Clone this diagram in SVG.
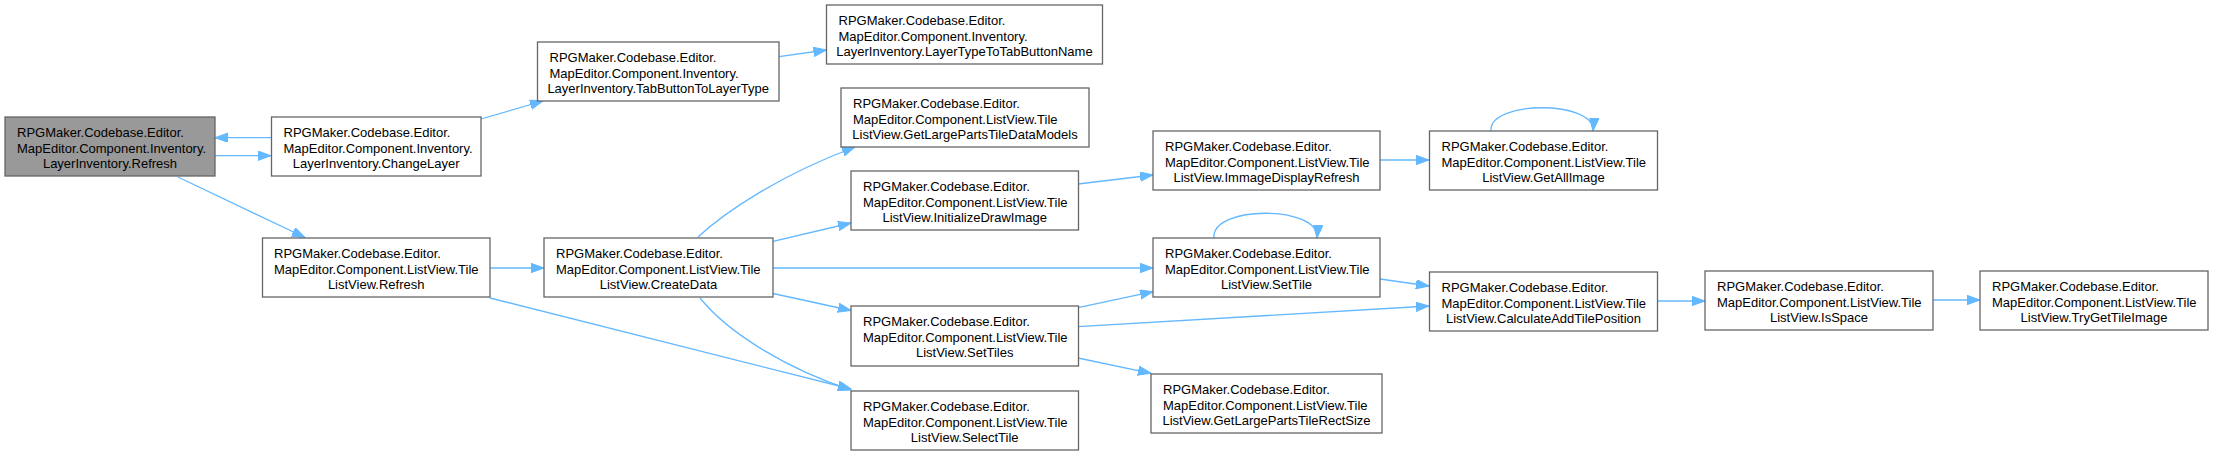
<svg xmlns="http://www.w3.org/2000/svg" width="2213" height="451" viewBox="0 0 2213 451">
<style>
.n rect{fill:#ffffff;stroke:#666666;stroke-width:1.3}
.n.root rect{fill:#999999}
.n text{font-family:"Liberation Sans",Arial,sans-serif;font-size:13px;fill:#000}
.c{text-anchor:middle}
.e path{fill:none;stroke:#63b8ff;stroke-width:1.3;marker-end:url(#ah)}
</style>
<defs>
<marker id="ah" markerUnits="userSpaceOnUse" markerWidth="14" markerHeight="10" refX="13" refY="4.7" orient="auto">
<path d="M0,0 L13,4.7 L0,9.4 z" fill="#63b8ff" stroke="#63b8ff" stroke-width="1"/>
</marker>
</defs>
<rect width="2213" height="451" fill="#ffffff"/>
<g id="edges" class="e">
<path d="M271,137.7 L215,137.7"/>
<path d="M215,155.7 L271,155.7"/>
<path d="M178,177 L305,237.5"/>
<path d="M481,119 L543,101"/>
<path d="M779,56.7 L826.5,50"/>
<path d="M490,268 L544,268"/>
<path d="M490,298 L851,389"/>
<path d="M698,237 C725,212 780,175 855,147"/>
<path d="M772,241.7 L851,223"/>
<path d="M773,268 L1153,268"/>
<path d="M773,293.5 L851,310.5"/>
<path d="M700,298 C730,335 790,370 851,390"/>
<path d="M1078,184 L1153,175"/>
<path d="M1380,160 L1429,160"/>
<path d="M1491,131 C1488,100 1596,100 1593,131"/>
<path d="M1214,238 C1211,205 1320,205 1317,238"/>
<path d="M1078,307.7 L1153,291.7"/>
<path d="M1078,326.7 L1429,306"/>
<path d="M1380,279 L1429,286"/>
<path d="M1078,358 L1151,373.3"/>
<path d="M1657,301 L1705,301"/>
<path d="M1933,300 L1980,300"/>
</g>
<g id="n1" class="n root">
<rect x="5" y="117" width="210" height="59"/>
<text x="17" y="137">RPGMaker.Codebase.Editor.</text>
<text x="17" y="152.5">MapEditor.Component.Inventory.</text>
<text class="c" x="110" y="168">LayerInventory.Refresh</text>
</g>
<g id="n2" class="n">
<rect x="271.5" y="117" width="209.5" height="59"/>
<text x="283.5" y="137">RPGMaker.Codebase.Editor.</text>
<text x="283.5" y="152.5">MapEditor.Component.Inventory.</text>
<text class="c" x="376.2" y="168">LayerInventory.ChangeLayer</text>
</g>
<g id="n3" class="n">
<rect x="262.5" y="238" width="227.5" height="59"/>
<text x="274" y="258">RPGMaker.Codebase.Editor.</text>
<text x="274" y="273.5">MapEditor.Component.ListView.Tile</text>
<text class="c" x="376.2" y="289">ListView.Refresh</text>
</g>
<g id="n4" class="n">
<rect x="537.5" y="42" width="241.5" height="59"/>
<text x="549.5" y="62">RPGMaker.Codebase.Editor.</text>
<text x="549.5" y="77.5">MapEditor.Component.Inventory.</text>
<text class="c" x="658.2" y="93">LayerInventory.TabButtonToLayerType</text>
</g>
<g id="n5" class="n">
<rect x="826.5" y="5" width="276" height="59"/>
<text x="838.5" y="25">RPGMaker.Codebase.Editor.</text>
<text x="838.5" y="40.5">MapEditor.Component.Inventory.</text>
<text class="c" x="964.5" y="56">LayerInventory.LayerTypeToTabButtonName</text>
</g>
<g id="n6" class="n">
<rect x="544" y="238" width="229" height="59"/>
<text x="556" y="258">RPGMaker.Codebase.Editor.</text>
<text x="556" y="273.5">MapEditor.Component.ListView.Tile</text>
<text class="c" x="658.5" y="289">ListView.CreateData</text>
</g>
<g id="n7" class="n">
<rect x="841" y="88" width="248" height="59"/>
<text x="853" y="108">RPGMaker.Codebase.Editor.</text>
<text x="853" y="123.5">MapEditor.Component.ListView.Tile</text>
<text class="c" x="965" y="139">ListView.GetLargePartsTileDataModels</text>
</g>
<g id="n8" class="n">
<rect x="851" y="171" width="227.5" height="59"/>
<text x="863" y="191">RPGMaker.Codebase.Editor.</text>
<text x="863" y="206.5">MapEditor.Component.ListView.Tile</text>
<text class="c" x="964.7" y="222">ListView.InitializeDrawImage</text>
</g>
<g id="n9" class="n">
<rect x="851" y="306" width="227.5" height="60"/>
<text x="863" y="326">RPGMaker.Codebase.Editor.</text>
<text x="863" y="341.5">MapEditor.Component.ListView.Tile</text>
<text class="c" x="964.7" y="357">ListView.SetTiles</text>
</g>
<g id="n10" class="n">
<rect x="851" y="391" width="227.5" height="59"/>
<text x="863" y="411">RPGMaker.Codebase.Editor.</text>
<text x="863" y="426.5">MapEditor.Component.ListView.Tile</text>
<text class="c" x="964.7" y="442">ListView.SelectTile</text>
</g>
<g id="n11" class="n">
<rect x="1153" y="131" width="227" height="59"/>
<text x="1165" y="151">RPGMaker.Codebase.Editor.</text>
<text x="1165" y="166.5">MapEditor.Component.ListView.Tile</text>
<text class="c" x="1266.5" y="182">ListView.ImmageDisplayRefresh</text>
</g>
<g id="n12" class="n">
<rect x="1153" y="238" width="227" height="59"/>
<text x="1165" y="258">RPGMaker.Codebase.Editor.</text>
<text x="1165" y="273.5">MapEditor.Component.ListView.Tile</text>
<text class="c" x="1266.5" y="289">ListView.SetTile</text>
</g>
<g id="n13" class="n">
<rect x="1151" y="374" width="231" height="59"/>
<text x="1163" y="394">RPGMaker.Codebase.Editor.</text>
<text x="1163" y="409.5">MapEditor.Component.ListView.Tile</text>
<text class="c" x="1266.5" y="425">ListView.GetLargePartsTileRectSize</text>
</g>
<g id="n14" class="n">
<rect x="1429.5" y="131" width="228" height="59"/>
<text x="1441.5" y="151">RPGMaker.Codebase.Editor.</text>
<text x="1441.5" y="166.5">MapEditor.Component.ListView.Tile</text>
<text class="c" x="1543.5" y="182">ListView.GetAllImage</text>
</g>
<g id="n15" class="n">
<rect x="1429.5" y="272" width="228" height="59"/>
<text x="1441.5" y="292">RPGMaker.Codebase.Editor.</text>
<text x="1441.5" y="307.5">MapEditor.Component.ListView.Tile</text>
<text class="c" x="1543.5" y="323">ListView.CalculateAddTilePosition</text>
</g>
<g id="n16" class="n">
<rect x="1705" y="271" width="228" height="59"/>
<text x="1717" y="291">RPGMaker.Codebase.Editor.</text>
<text x="1717" y="306.5">MapEditor.Component.ListView.Tile</text>
<text class="c" x="1819" y="322">ListView.IsSpace</text>
</g>
<g id="n17" class="n">
<rect x="1980" y="271" width="228" height="59"/>
<text x="1992" y="291">RPGMaker.Codebase.Editor.</text>
<text x="1992" y="306.5">MapEditor.Component.ListView.Tile</text>
<text class="c" x="2094" y="322">ListView.TryGetTileImage</text>
</g>
</svg>
